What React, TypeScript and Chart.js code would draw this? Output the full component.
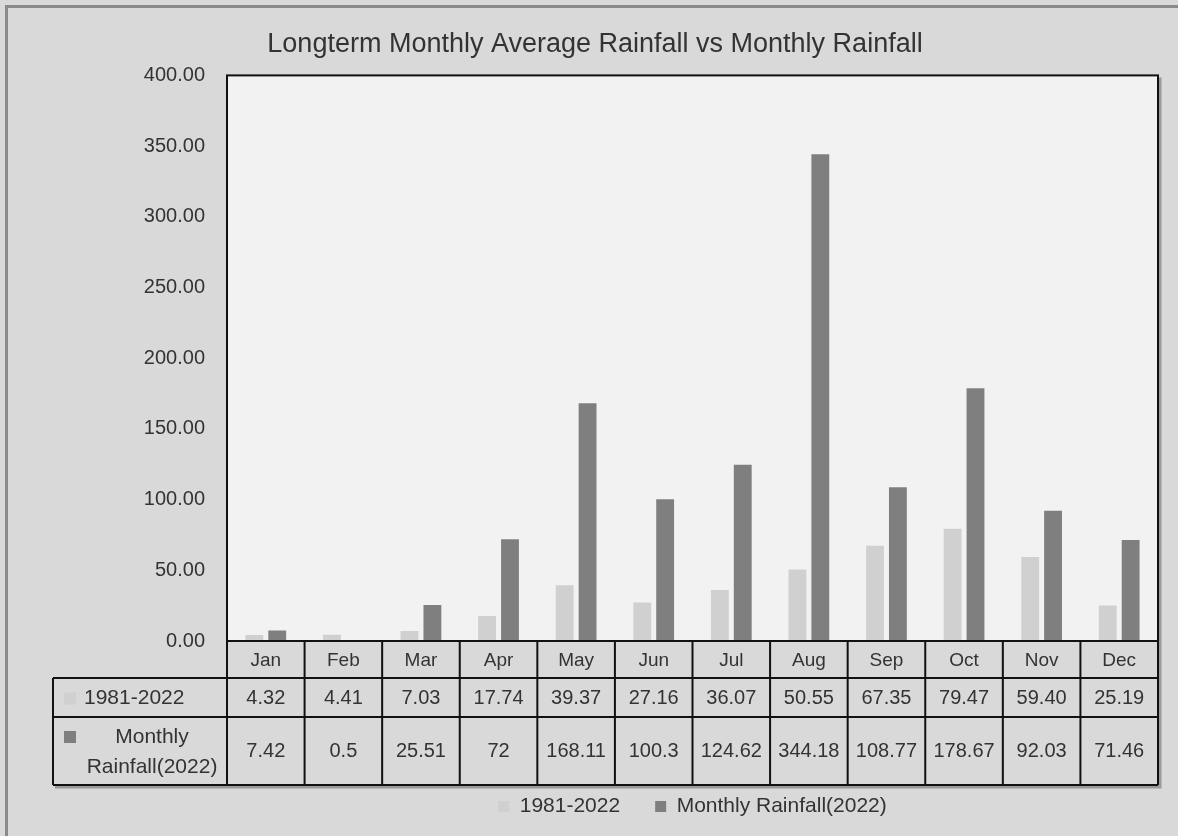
import React, { useEffect, useRef } from "react";
import { Chart, registerables } from "chart.js";

Chart.register(...registerables);

const TITLE = "Longterm Monthly Average Rainfall vs Monthly Rainfall";
const months = ["Jan", "Feb", "Mar", "Apr", "May", "Jun", "Jul", "Aug", "Sep", "Oct", "Nov", "Dec"];
const series1Name = "1981-2022";
const series2Name = "Monthly Rainfall(2022)";
const series2RowLines = ["Monthly", "Rainfall(2022)"];
const longTerm = [4.32, 4.41, 7.03, 17.74, 39.37, 27.16, 36.07, 50.55, 67.35, 79.47, 59.4, 25.19];
const rain2022 = [7.42, 0.5, 25.51, 72, 168.11, 100.3, 124.62, 344.18, 108.77, 178.67, 92.03, 71.46];
const longTermLabels = longTerm.map((v) => v.toFixed(2));
const rain2022Labels = rain2022.map((v) => String(v));
const yMin = 0;
const yMax = 400;
const yStep = 50;

const FONT = "'Liberation Sans', Arial, sans-serif";
const TEXT = "#333333";
const LIGHT = "#d0d0d0";
const DARK = "#7f7f7f";

const tablePlugin = {
  id: "excelFrameAndTable",
  beforeDraw(chart: any) {
    const { ctx, width, height, chartArea: a } = chart;
    ctx.save();
    ctx.fillStyle = "#d9d9d9";
    ctx.fillRect(0, 0, width, height);
    ctx.strokeStyle = "#8a8a8a";
    ctx.lineWidth = 3;
    ctx.beginPath();
    ctx.moveTo(6.5, height);
    ctx.lineTo(6.5, 6.5);
    ctx.lineTo(width, 6.5);
    ctx.stroke();
    ctx.fillStyle = "#f2f2f2";
    ctx.fillRect(a.left, a.top, a.right - a.left, a.bottom - a.top);
    ctx.restore();
  },
  afterDatasetsDraw(chart: any) {
    const { ctx, chartArea: a } = chart;
    const xs = chart.scales.x;
    const n = months.length;
    const cw = (a.right - a.left) / n;
    const yHead = a.bottom;
    const yR1 = yHead + 37;
    const yR2 = yR1 + 39;
    const yEnd = yR2 + 68;
    const labelLeft = 53;
    ctx.save();
    // plot border shadow
    ctx.strokeStyle = "#9a9a9a";
    ctx.lineWidth = 3;
    ctx.beginPath();
    ctx.moveTo(a.right + 2, a.top + 2);
    ctx.lineTo(a.right + 2, yEnd + 2);
    ctx.lineTo(labelLeft + 2, yEnd + 2);
    ctx.stroke();
    // plot border
    ctx.strokeStyle = "#111111";
    ctx.lineWidth = 2;
    ctx.strokeRect(a.left, a.top, a.right - a.left, a.bottom - a.top);
    // table lines
    ctx.beginPath();
    for (const y of [yR1, yR2, yEnd]) {
      ctx.moveTo(labelLeft, y);
      ctx.lineTo(a.right, y);
    }
    for (let i = 0; i <= n; i++) {
      const x = a.left + i * cw;
      ctx.moveTo(x, yHead);
      ctx.lineTo(x, yEnd);
    }
    ctx.moveTo(labelLeft, yR1);
    ctx.lineTo(labelLeft, yEnd);
    ctx.stroke();
    // text
    ctx.fillStyle = TEXT;
    ctx.textAlign = "center";
    ctx.textBaseline = "middle";
    const mHead = (yHead + yR1) / 2 + 1;
    const m1 = (yR1 + yR2) / 2 + 1;
    const m2 = (yR2 + yEnd) / 2;
    for (let i = 0; i < n; i++) {
      const cx = xs.getPixelForValue(i);
      ctx.font = `19px ${FONT}`;
      ctx.fillText(months[i], cx, mHead);
      ctx.font = `20px ${FONT}`;
      ctx.fillText(longTermLabels[i], cx, m1);
      ctx.fillText(rain2022Labels[i], cx, m2);
    }
    // row labels
    ctx.fillStyle = LIGHT;
    ctx.fillRect(64, m1 - 6, 12, 12);
    ctx.fillStyle = DARK;
    ctx.fillRect(64, m2 - 20, 12, 12);
    ctx.fillStyle = TEXT;
    ctx.font = `21px ${FONT}`;
    ctx.textAlign = "left";
    ctx.fillText(series1Name, 84, m1);
    ctx.textAlign = "center";
    ctx.fillText(series2RowLines[0], 152, m2 - 14);
    ctx.fillText(series2RowLines[1], 152, m2 + 16);
    ctx.restore();
  },
};

export default function App() {
  const ref = useRef<HTMLCanvasElement>(null);
  useEffect(() => {
    document.body.style.margin = "0";
    const chart = new Chart(ref.current as HTMLCanvasElement, {
      type: "bar",
      data: {
        labels: months,
        datasets: [
          {
            label: series1Name,
            data: longTerm,
            backgroundColor: LIGHT,
            borderWidth: 0,
            categoryPercentage: 0.59,
            barPercentage: 0.78,
          },
          {
            label: series2Name,
            data: rain2022,
            backgroundColor: DARK,
            borderWidth: 0,
            categoryPercentage: 0.59,
            barPercentage: 0.78,
          },
        ],
      },
      options: {
        responsive: false,
        animation: false,
        layout: { padding: { left: 32, right: 20, top: 0, bottom: 9 } },
        plugins: {
          title: {
            display: true,
            text: TITLE,
            color: TEXT,
            font: { family: FONT, size: 27, weight: "normal" },
            padding: { top: 28, bottom: 15 },
          },
          legend: {
            position: "bottom",
            fullSize: false,
            labels: {
              color: TEXT,
              font: { family: FONT, size: 21 },
              boxWidth: 11,
              boxHeight: 11,
              padding: 35,
            },
          },
          tooltip: { enabled: false },
        },
        scales: {
          x: {
            grid: { display: false, drawTicks: false },
            border: { display: false },
            ticks: { display: false },
            afterFit: (s: any) => {
              s.height = 120;
            },
          },
          y: {
            min: yMin,
            max: yMax,
            grid: { display: false, drawTicks: false },
            border: { display: false },
            ticks: {
              stepSize: yStep,
              padding: 22,
              color: TEXT,
              font: { family: FONT, size: 20 },
              callback: (v: any) => Number(v).toFixed(2),
            },
            afterFit: (s: any) => {
              s.width = 195;
            },
          },
        },
      } as any,
      plugins: [tablePlugin],
    });
    return () => chart.destroy();
  }, []);
  return (
    <div style={{ width: 1178, height: 836 }}>
      <canvas ref={ref} width={1178} height={836} style={{ display: "block" }} />
    </div>
  );
}
